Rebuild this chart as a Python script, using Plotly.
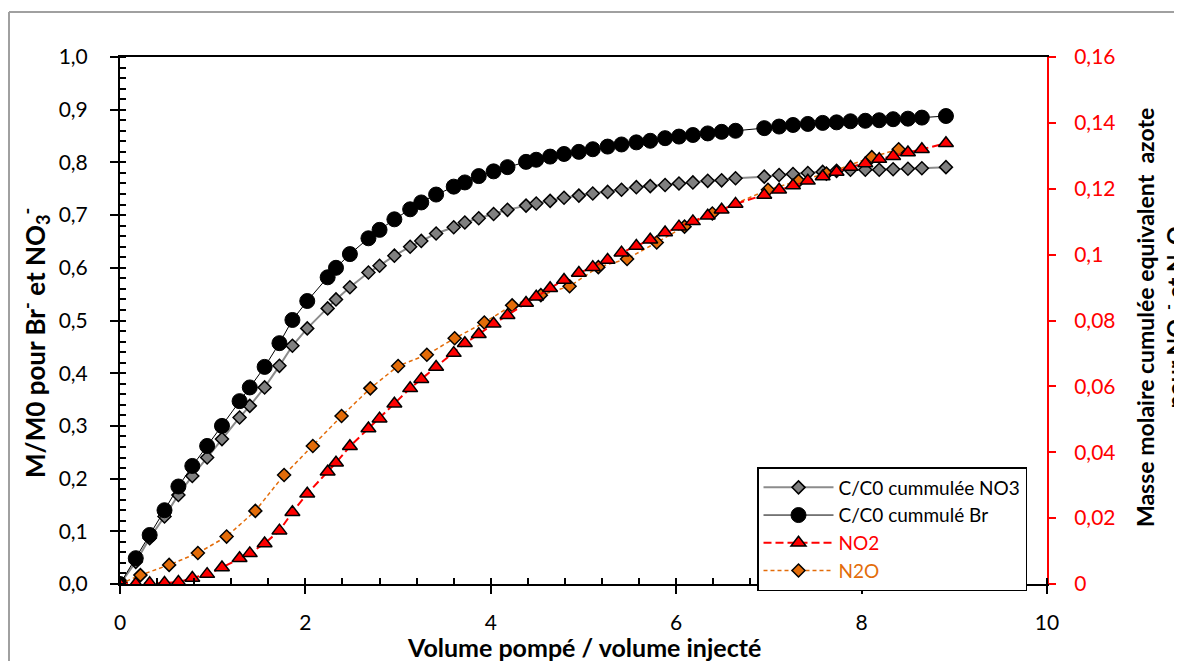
import plotly.graph_objects as go

# Shared x (volume pompé / volume injecté) for Br, NO3 and NO2 series
x_main = [0, 0.17, 0.32, 0.48, 0.63, 0.78, 0.94, 1.10, 1.29, 1.40, 1.56, 1.72, 1.86, 2.02,
          2.24, 2.33, 2.48, 2.68, 2.80, 2.96, 3.13, 3.25, 3.41, 3.60, 3.72, 3.87, 4.03, 4.18,
          4.38, 4.49, 4.64, 4.79, 4.95, 5.10, 5.26, 5.41, 5.57, 5.72, 5.88, 6.03, 6.18, 6.34,
          6.49, 6.64, 6.95, 7.11, 7.26, 7.42, 7.58, 7.73, 7.88, 8.04, 8.19, 8.34, 8.50, 8.65, 8.91]

br = [0, 0.049, 0.093, 0.140, 0.185, 0.224, 0.262, 0.300, 0.347, 0.373, 0.412, 0.457, 0.501, 0.537,
      0.582, 0.600, 0.626, 0.656, 0.672, 0.692, 0.711, 0.724, 0.739, 0.754, 0.762, 0.774, 0.783, 0.791,
      0.801, 0.805, 0.811, 0.816, 0.820, 0.825, 0.830, 0.834, 0.838, 0.841, 0.846, 0.849, 0.852, 0.855,
      0.858, 0.860, 0.865, 0.868, 0.871, 0.873, 0.875, 0.876, 0.878, 0.879, 0.880, 0.882, 0.883, 0.885, 0.888]

no3 = [0, 0.042, 0.087, 0.128, 0.169, 0.205, 0.240, 0.275, 0.316, 0.338, 0.373, 0.414, 0.452, 0.485,
       0.523, 0.540, 0.563, 0.591, 0.604, 0.623, 0.640, 0.651, 0.665, 0.677, 0.686, 0.694, 0.702, 0.710,
       0.718, 0.722, 0.727, 0.733, 0.737, 0.741, 0.744, 0.748, 0.753, 0.755, 0.757, 0.760, 0.762, 0.765,
       0.766, 0.770, 0.773, 0.776, 0.778, 0.780, 0.782, 0.784, 0.786, 0.786, 0.786, 0.787, 0.788, 0.789, 0.791]

no2 = [0, 0, 0.0002, 0.0003, 0.0006, 0.0018, 0.0030, 0.0050, 0.0078, 0.0093, 0.0123, 0.0162, 0.0218, 0.0274,
       0.0341, 0.0368, 0.0418, 0.0472, 0.0502, 0.0547, 0.0594, 0.0622, 0.0659, 0.0701, 0.0731, 0.0758, 0.0790, 0.0816,
       0.0853, 0.0872, 0.0898, 0.0923, 0.0944, 0.0962, 0.0984, 0.1006, 0.1026, 0.1045, 0.1067, 0.1085, 0.1101, 0.1118,
       0.1136, 0.1154, 0.1181, 0.1197, 0.1210, 0.1224, 0.1237, 0.1251, 0.1266, 0.1277, 0.1290, 0.1299, 0.1310, 0.1320, 0.1338]

x_n2o = [0, 0.22, 0.53, 0.84, 1.15, 1.46, 1.77, 2.08, 2.39, 2.70, 3.00, 3.31, 3.61, 3.93,
         4.23, 4.54, 4.85, 5.16, 5.47, 5.79, 6.09, 6.39, 6.99, 7.32, 7.62, 8.11, 8.40]
n2o = [0, 0.0027, 0.0058, 0.0094, 0.0144, 0.0222, 0.0331, 0.0419, 0.0510, 0.0594, 0.0662, 0.0696, 0.0746, 0.0794,
       0.0846, 0.0877, 0.0904, 0.0962, 0.0987, 0.1037, 0.1085, 0.1125, 0.1197, 0.1224, 0.1246, 0.1296, 0.1320]

names = ["C/C0 cummulée NO3", "C/C0 cummulé Br", "NO2", "N2O"]
x_title = "Volume pompé / volume injecté"
y_title = "M/M0 pour Br<sup>-</sup> et NO<sub>3</sub><sup>-</sup>"
y2_title = "Masse molaire cumulée equivalent  azote<br>pour NO<sub>2</sub><sup>-</sup> et N<sub>2</sub>O"

FONT = "Lato"
ORANGE = "#E36C09"

fig = go.Figure()
fig.add_trace(go.Scatter(
    x=x_main, y=no3, name=names[0], mode="lines+markers", legendrank=1,
    line=dict(color="#8C8C8C", width=2),
    marker=dict(symbol="diamond", size=10, color="#808080", line=dict(color="black", width=1.5))))
fig.add_trace(go.Scatter(
    x=x_main, y=br, name=names[1], mode="lines+markers", legendrank=2,
    line=dict(color="black", width=1),
    marker=dict(symbol="circle", size=15, color="black", line=dict(color="black", width=1))))
fig.add_trace(go.Scatter(
    x=x_n2o, y=n2o, name="<span style='color:%s'>%s</span>" % (ORANGE, names[3]), yaxis="y2",
    mode="lines+markers", legendrank=4,
    line=dict(color=ORANGE, width=1.5, dash="4px,3px"),
    marker=dict(symbol="diamond", size=10, color=ORANGE, line=dict(color="black", width=1.5))))
fig.add_trace(go.Scatter(
    x=x_main, y=no2, name="<span style='color:red'>%s</span>" % names[2], yaxis="y2",
    mode="lines+markers", legendrank=3,
    line=dict(color="red", width=2, dash="8px,4px"),
    marker=dict(symbol="triangle-up", size=13, color="red", line=dict(color="black", width=1.5))))

# The page body has an 8px margin, so the figure is shifted by OFF pixels
# and sized to end exactly at the window edge.
OFF = 8
W, H = 1182 - OFF, 661 - OFF
PL, PT, PR, PB = 120, 57, 1047, 584  # plot area in the reference picture
L, T = PL - OFF, PT - OFF
pw, ph = PR - PL, PB - PT
R, B = W - L - pw, H - T - ph


def px_x(p):
    return (p - PL) / pw


def px_y(p):
    return (PB - p) / ph


frame = dict(color="#A0A0A0", width=2)

fig.update_layout(
    width=W, height=H, margin=dict(l=L, r=R, t=T, b=B, pad=0),
    paper_bgcolor="white", plot_bgcolor="white",
    font=dict(family=FONT, size=21, color="black"),
    separators=", ",
    showlegend=True,
    legend=dict(x=px_x(757), y=px_y(467), xanchor="left", yanchor="top",
                bgcolor="white", bordercolor="black", borderwidth=1.5,
                font=dict(family=FONT, size=19, color="black"), itemwidth=70,
                traceorder="normal"),
    xaxis=dict(range=[0, 10], dtick=2, showgrid=False, zeroline=False,
               showline=True, linecolor="black", linewidth=2, mirror=True,
               ticks="outside", ticklen=8, tickwidth=2, tickcolor="black",
               ticklabelstandoff=11,
               minor=dict(dtick=0.4, ticks="inside", ticklen=6, tickwidth=1.5, tickcolor="black")),
    yaxis=dict(range=[0, 1.0], dtick=0.1, tickformat=".1f", showgrid=False, zeroline=False,
               showline=True, linecolor="black", linewidth=2,
               ticks="outside", ticklen=8, tickwidth=2, tickcolor="black",
               ticklabelstandoff=18,
               minor=dict(dtick=0.02, ticks="inside", ticklen=6, tickwidth=1.5, tickcolor="black")),
    yaxis2=dict(range=[0, 0.16], dtick=0.02, overlaying="y", side="right", showgrid=False,
                zeroline=False, showline=True, linecolor="red", linewidth=2,
                ticks="outside", ticklen=7, tickwidth=1.5, tickcolor="red",
                ticklabelstandoff=14, tickfont=dict(color="red", size=21, family=FONT)),
    shapes=[
        dict(type="line", xref="paper", yref="paper",
             x0=px_x(9), x1=px_x(1200), y0=px_y(12), y1=px_y(12), line=frame, layer="below"),
        dict(type="line", xref="paper", yref="paper",
             x0=px_x(9), x1=px_x(9), y0=px_y(12), y1=px_y(680), line=frame, layer="below"),
    ],
    annotations=[
        dict(text="<b>%s</b>" % x_title, xref="paper", yref="paper", x=0.5, y=px_y(647),
             xanchor="center", yanchor="middle", showarrow=False, font=dict(size=25, family=FONT)),
        dict(text="<b>%s</b>" % y_title, xref="paper", yref="paper", x=px_x(35), y=px_y(343),
             xanchor="center", yanchor="middle", showarrow=False, textangle=-90,
             font=dict(size=26, family=FONT)),
        dict(text="<b>%s</b>" % y2_title, xref="paper", yref="paper", x=px_x(1161), y=px_y(318),
             xanchor="center", yanchor="middle", showarrow=False, textangle=-90,
             font=dict(size=23, family=FONT)),
    ],
)

# hide the page scrollbars caused by the default body margin
fig.write_html("out.html", post_script=[
    "document.documentElement.style.overflow='hidden'; document.body.style.overflow='hidden';"])
